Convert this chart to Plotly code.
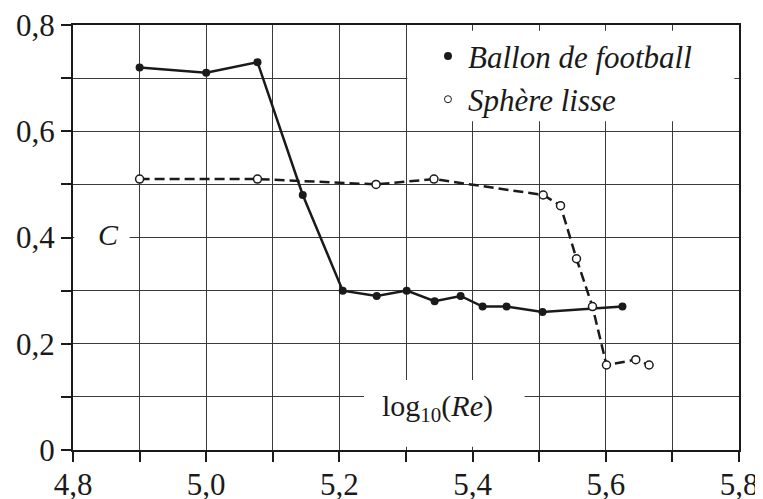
import plotly.graph_objects as go

# Data
ballon_x = [4.9, 5.0, 5.077, 5.145, 5.205, 5.256, 5.301, 5.343, 5.382, 5.415, 5.451, 5.505, 5.625]
ballon_y = [0.72, 0.71, 0.73, 0.48, 0.30, 0.29, 0.30, 0.28, 0.29, 0.27, 0.27, 0.26, 0.27]
sphere_x = [4.9, 5.077, 5.255, 5.342, 5.506, 5.532, 5.556, 5.58, 5.601, 5.645, 5.665]
sphere_y = [0.51, 0.51, 0.50, 0.51, 0.48, 0.46, 0.36, 0.27, 0.16, 0.17, 0.16]

x_ticks = [4.8, 4.9, 5.0, 5.1, 5.2, 5.3, 5.4, 5.5, 5.6, 5.7, 5.8]
x_labels = ["4,8", "", "5,0", "", "5,2", "", "5,4", "", "5,6", "", "5,8"]
y_ticks = [0, 0.1, 0.2, 0.3, 0.4, 0.5, 0.6, 0.7, 0.8]
y_labels = ["0", "", "0,2", "", "0,4", "", "0,6", "", "0,8"]

FONT = "Times New Roman, Liberation Serif, serif"

fig = go.Figure()

fig.add_trace(go.Scatter(
    x=ballon_x, y=ballon_y, mode="lines+markers", showlegend=False,
    line=dict(color="#1a1a1a", width=2.5),
    marker=dict(symbol="circle", size=8, color="#1a1a1a"),
))
fig.add_trace(go.Scatter(
    x=sphere_x, y=sphere_y, mode="lines+markers", showlegend=False,
    line=dict(color="#1a1a1a", width=2.5, dash="10px,5px"),
    marker=dict(symbol="circle", size=8, color="white", line=dict(color="#1a1a1a", width=1.5)),
))
# legend entries (markers only)
fig.add_trace(go.Scatter(
    x=[None], y=[None], mode="markers", name="<i>Ballon de football</i>",
    marker=dict(symbol="circle", size=8, color="#1a1a1a"),
))
fig.add_trace(go.Scatter(
    x=[None], y=[None], mode="markers", name="<i>Sphère lisse</i>",
    marker=dict(symbol="circle", size=7, color="white", line=dict(color="#1a1a1a", width=1)),
))

# white boxes hiding the grid behind labels
for x0, x1, y0, y1 in [(5.302, 5.793, 0.619, 0.789),
                       (4.802, 4.885, 0.37, 0.44),
                       (5.237, 5.478, 0.006, 0.132)]:
    fig.add_shape(type="rect", xref="x", yref="y", x0=x0, x1=x1, y0=y0, y1=y1,
                  fillcolor="white", line=dict(width=0), layer="between")

fig.add_annotation(x=4.853, y=0.405, xref="x", yref="y", text="<i>C</i>",
                   showarrow=False, font=dict(family=FONT, size=30, color="#1a1a1a"))
fig.add_annotation(x=5.347, y=0.079, xref="x", yref="y", text="log<sub>10</sub>(<i>Re</i>)",
                   showarrow=False, font=dict(family=FONT, size=30, color="#1a1a1a"))

axis_common = dict(
    showline=True, linecolor="#1a1a1a", linewidth=2, mirror=True,
    ticks="outside", ticklen=10, tickwidth=1.5, tickcolor="#1a1a1a",
    showgrid=True, gridcolor="#3a3a3a", gridwidth=1, zeroline=False,
    automargin=False, ticklabeloverflow="allow",
    tickfont=dict(family=FONT, size=31, color="#1a1a1a"),
)

# the page body adds an 8px margin, so the figure is sized/offset to compensate
fig.update_layout(
    width=755, height=491,
    margin=dict(l=65, r=24, t=17, b=49),
    paper_bgcolor="white", plot_bgcolor="white",
    xaxis=dict(range=[4.8, 5.8], tickvals=x_ticks, ticktext=x_labels,
               ticklabelstandoff=-4, **axis_common),
    yaxis=dict(range=[0, 0.8], tickvals=y_ticks, ticktext=y_labels, **axis_common),
    legend=dict(x=0.533, y=0.99, xanchor="left", yanchor="top",
                bgcolor="rgba(0,0,0,0)", font=dict(family=FONT, size=31, color="#1a1a1a"),
                tracegroupgap=0, itemwidth=30),
)

fig.write_html("out.html")
